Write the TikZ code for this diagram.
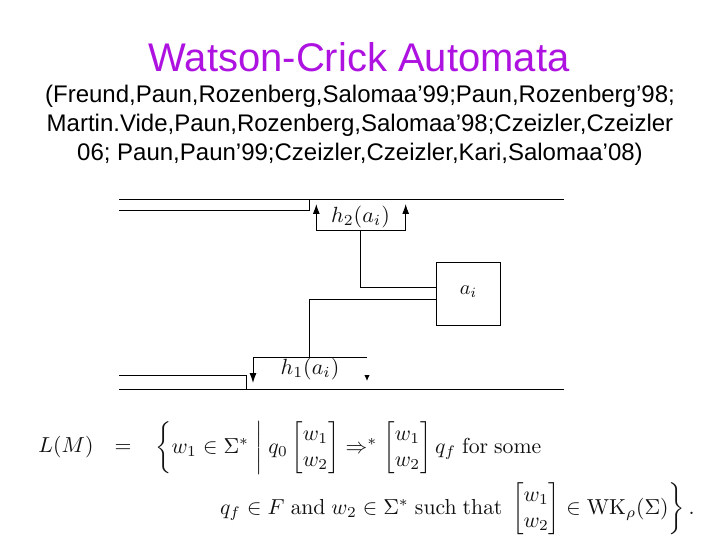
\documentclass[tikz,border=0pt]{standalone}
\usepackage{amsmath}
\usepackage{amssymb}
\usepackage[no-math]{fontspec}
\setmainfont{Liberation Sans}
\usetikzlibrary{arrows.meta}
\definecolor{titlepurple}{HTML}{AE12E0}
\definecolor{mathgray}{HTML}{111111}
\newcommand{\rmtxt}[1]{\mathrm{#1}}
\tikzset{
  wire/.style={draw=black,line width=1pt},
  tip/.style={wire,-{Latex[length=10pt,width=7pt]}},
  smalltip/.style={wire,-{Latex[length=6pt,width=5.5pt]}},
  headtext/.style={inner sep=0pt,anchor=center,align=center},
  mathtext/.style={inner sep=0pt,text=mathgray,transform shape,scale=2.17},
  labeltext/.style={inner sep=0pt,text=mathgray,transform shape,scale=2.2}
}
\begin{document}
\begin{tikzpicture}[x=1pt,y=-1pt]
\useasboundingbox (0,0) rectangle (720,540);
\node[headtext,text=titlepurple,font=\fontsize{40}{46}\selectfont] (title) at (359,57) {Watson-Crick Automata};
\node[headtext,font=\fontsize{24}{28}\selectfont] (l1) at (360,96) {(Freund,Paun,Rozenberg,Salomaa’99;Paun,Rozenberg’98;};
\node[headtext,font=\fontsize{24}{28}\selectfont] (l2) at (360,125) {Martin.Vide,Paun,Rozenberg,Salomaa’98;Czeizler,Czeizler};
\node[headtext,font=\fontsize{24}{28}\selectfont] (l3) at (360,154) {06; Paun,Paun’99;Czeizler,Czeizler,Kari,Salomaa’08)};
% tape
\coordinate (tl) at (119,199.3);
\coordinate (tr) at (564,199.3);
\coordinate (tn) at (309.5,199.3);
\coordinate (ts) at (309.5,211);
\coordinate (t2) at (119,211);
\draw[wire] (tl) -- (tr);
\draw[wire] (t2) -- (ts) -- (tn);
\coordinate (bl) at (119,389.3);
\coordinate (br) at (564,389.3);
\coordinate (bn) at (246.3,389.3);
\coordinate (bs) at (246.3,375.3);
\coordinate (b2) at (119,375.3);
\draw[wire] (bl) -- (br);
\draw[wire] (b2) -- (bs) -- (bn);
% box
\node[draw=black,line width=1pt,minimum width=64pt,minimum height=63pt,inner sep=0pt] (box) at (468.3,293.8) {};
\node[labeltext,scale=0.92] (ai) at (468.5,292) {$a_i$};
% h2
\coordinate (h2l) at (316.3,230.3);
\coordinate (h2r) at (405.7,230.3);
\coordinate (h2la) at (316.3,204);
\coordinate (h2ra) at (405.7,204);
\coordinate (h2m) at (360.3,230.3);
\coordinate (h2c) at (360.3,287.3);
\coordinate (h2b) at (436.3,287.3);
\draw[tip] (h2l) -- (h2la);
\draw[tip] (h2r) -- (h2ra);
\draw[wire] (h2l) -- (h2r);
\draw[wire] (h2m) -- (h2c) -- (h2b);
\node[labeltext] (h2t) at (360.5,217) {$h_2(a_i)$};
% h1
\coordinate (h1l) at (253,357.3);
\coordinate (h1r) at (367,357.3);
\coordinate (h1la) at (253,383);
\coordinate (h1m) at (309.5,357.3);
\coordinate (h1c) at (309.5,299.3);
\coordinate (h1b) at (436.3,299.3);
\coordinate (h1rs) at (367,375);
\coordinate (h1ra) at (367,381);
\draw[tip] (h1l) -- (h1la);
\draw[wire] (h1l) -- (h1r);
\draw[wire] (h1m) -- (h1c) -- (h1b);
\draw[smalltip] (h1rs) -- (h1ra);
\node[labeltext] (h1t) at (310,368.5) {$h_1(a_i)$};
% formula
\node[mathtext,anchor=west] (lm) at (38,447.5) {$L(M)$};
\node[mathtext] (eq) at (123,448.5) {$=$};
\node[mathtext,anchor=west] (f1) at (155,448)
  {$\left\{w_1\in\Sigma^*\;\middle|\;q_0\begin{bmatrix}w_1\\w_2\end{bmatrix}\Rightarrow^*\begin{bmatrix}w_1\\w_2\end{bmatrix}q_f\ \rmtxt{for\ some}\right.$};
\node[mathtext,anchor=east] (f2) at (695,509)
  {$\left.q_f\in F\ \rmtxt{and}\ w_2\in\Sigma^*\ \rmtxt{such\ that}\ \begin{bmatrix}w_1\\w_2\end{bmatrix}\in\mathrm{WK}_\rho(\Sigma)\right\}.$};
\end{tikzpicture}
\end{document}
